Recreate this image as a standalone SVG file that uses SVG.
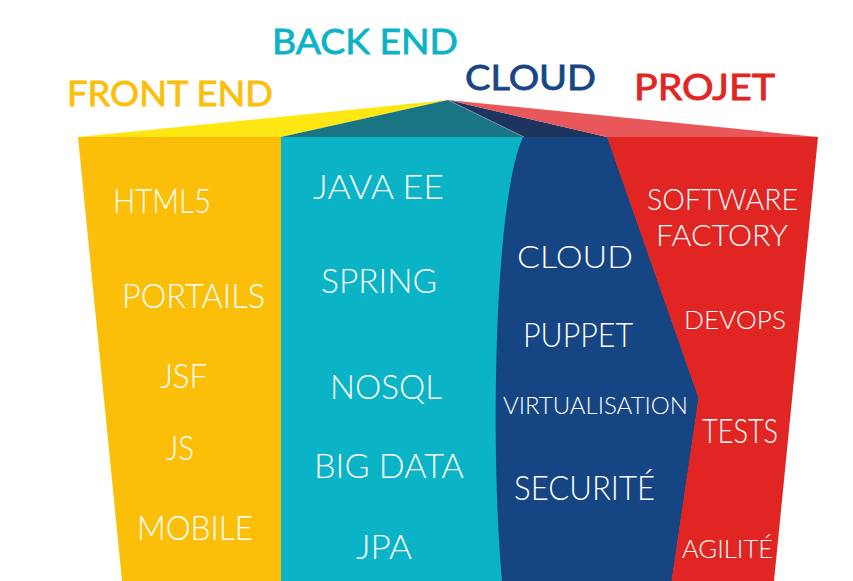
<svg xmlns="http://www.w3.org/2000/svg" width="853" height="581" viewBox="0 0 853 581">
<style>
.t{font-family:Lato,"Liberation Sans",sans-serif;font-weight:300;fill:#fff;lengthAdjust:spacingAndGlyphs}
.h{font-family:Lato,"Liberation Sans",sans-serif;font-weight:400;stroke-width:0.8}
</style>
<rect width="853" height="581" fill="#fff"/>
<g id="facets">
<polygon points="78,137 448,100 281,137" fill="#FFE713"/>
<polygon points="281,137 448,100 524,137" fill="#197483"/>
<polygon points="448,100 524,137 607,137" fill="#1D3461"/>
<polygon points="448,100 607,137 818,137" fill="#E8575A"/>
<line x1="448" y1="100" x2="524" y2="137" stroke="#8fa9b8" stroke-width="0.6"/>
</g>
<g id="front-end">
<polygon points="78,137 281.5,137 281.5,581 122,581" fill="#FBBF09"/>
<text class="h" x="67" y="106" font-size="35" fill="#FBBF09" stroke="#FBBF09" textLength="206" lengthAdjust="spacingAndGlyphs">FRONT END</text>
<text class="t" x="113" y="213" font-size="33" textLength="98" lengthAdjust="spacingAndGlyphs">HTML5</text>
<text class="t" x="122" y="308" font-size="33" textLength="143" lengthAdjust="spacingAndGlyphs">PORTAILS</text>
<text class="t" x="160" y="388" font-size="33" textLength="47" lengthAdjust="spacingAndGlyphs">JSF</text>
<text class="t" x="166" y="460" font-size="33" textLength="28" lengthAdjust="spacingAndGlyphs">JS</text>
<text class="t" x="137" y="540" font-size="33" textLength="116" lengthAdjust="spacingAndGlyphs">MOBILE</text>
</g>
<g id="back-end">
<polygon points="281,137 530,137 530,581 281,581" fill="#0BB3C6"/>
<text class="h" x="272" y="54" font-size="34" fill="#0BB3C6" stroke="#0BB3C6" textLength="186" lengthAdjust="spacingAndGlyphs">BACK END</text>
<text class="t" x="313" y="199" font-size="33" textLength="131" lengthAdjust="spacingAndGlyphs">JAVA EE</text>
<text class="t" x="321" y="293" font-size="33" textLength="116" lengthAdjust="spacingAndGlyphs">SPRING</text>
<text class="t" x="330" y="399" font-size="33" textLength="112" lengthAdjust="spacingAndGlyphs">NOSQL</text>
<text class="t" x="314" y="478" font-size="33" textLength="150" lengthAdjust="spacingAndGlyphs">BIG DATA</text>
<text class="t" x="356" y="559" font-size="33" textLength="56" lengthAdjust="spacingAndGlyphs">JPA</text>
</g>
<g id="cloud">
<path d="M523,137 L607.5,137 L699,398 L672,581 L502,581 C490,450 494,200 523,137 Z" fill="#154583"/>
<text class="h" x="465" y="90" font-size="35" fill="#164685" stroke="#164685" textLength="131" lengthAdjust="spacingAndGlyphs">CLOUD</text>
<text class="t" x="517" y="268" font-size="32" textLength="116" lengthAdjust="spacingAndGlyphs">CLOUD</text>
<text class="t" x="523" y="347" font-size="33" textLength="110" lengthAdjust="spacingAndGlyphs">PUPPET</text>
<text class="t" x="503" y="414" font-size="24" textLength="185" lengthAdjust="spacingAndGlyphs">VIRTUALISATION</text>
<text class="t" x="514" y="500" font-size="33" textLength="141" lengthAdjust="spacingAndGlyphs">SECURITÉ</text>
</g>
<g id="projet">
<polygon points="607,137 818,137 774,581 671.5,581 698.5,398" fill="#E12522"/>
<text class="h" x="634" y="100" font-size="37" fill="#E12522" stroke="#E12522" textLength="141" lengthAdjust="spacingAndGlyphs">PROJET</text>
<text class="t" x="647" y="210" font-size="29" textLength="151" lengthAdjust="spacingAndGlyphs">SOFTWARE</text>
<text class="t" x="656" y="246" font-size="30" textLength="132" lengthAdjust="spacingAndGlyphs">FACTORY</text>
<text class="t" x="684" y="329" font-size="26" textLength="102" lengthAdjust="spacingAndGlyphs">DEVOPS</text>
<text class="t" x="702" y="443" font-size="34" textLength="76" lengthAdjust="spacingAndGlyphs">TESTS</text>
<text class="t" x="682" y="558" font-size="25" textLength="91" lengthAdjust="spacingAndGlyphs">AGILITÉ</text>
</g>
<g id="connectors"></g>
</svg>
